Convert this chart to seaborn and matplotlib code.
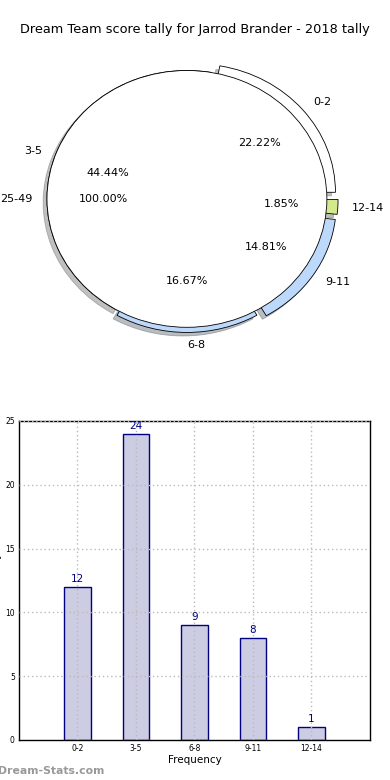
import matplotlib
matplotlib.use("Agg")
import matplotlib.pyplot as plt
import seaborn as sns

# ==========================================
# DATA
# ==========================================
bins = ["0-2", "3-5", "6-8", "9-11", "12-14"]
counts = [12, 24, 9, 8, 1]
outer_bin = ["25-49"]
outer_count = [1]
wedge_colors = ["white", "white", "#bcd8fb", "#bcd8fb", "#d3e98c"]
explode = [0.08, 0.0, 0.04, 0.08, 0.08]

title = "Dream Team score tally for Jarrod Brander - 2018 tally"

sns.set_style("white")
plt.rcParams["font.family"] = ["DejaVu Sans"]
plt.rcParams["text.color"] = "black"

fig = plt.figure(figsize=(3.9, 7.8), dpi=100)
fig.text(0.5, 1 - 30 / 780, title, ha="center", va="center", fontsize=9.3)

# ==========================================
# PIE
# ==========================================
ax1 = fig.add_axes([0.0128, 0.531, 0.933, 0.428])
wedges, _, _ = ax1.pie(counts, labels=bins, explode=explode,
                       colors=wedge_colors, autopct="%.2f%%", shadow=True,
                       startangle=0, labeldistance=1.1, pctdistance=0.6,
                       wedgeprops={"edgecolor": "black", "linewidth": 0.6},
                       textprops={"fontsize": 8, "color": "black"})
# lighter shadows
for p in ax1.patches:
    if p not in wedges:
        p.set_alpha(0.35)
ax1.pie(outer_count, labels=outer_bin, colors=["white"], autopct="%.2f%%",
        labeldistance=1.1, pctdistance=0.6,
        wedgeprops={"edgecolor": "black", "linewidth": 0.6},
        textprops={"fontsize": 8, "color": "black"})
ax1.set_aspect("auto")
ax1.set_xlim(-1.3, 1.3)
ax1.set_ylim(-1.3, 1.3)
ax1.axis("off")

# ==========================================
# BARS
# ==========================================
ax2 = fig.add_axes([0.0487, 0.0513, 0.9, 0.409])
sns.barplot(x=bins, y=counts, ax=ax2, color="#cccce3", saturation=1,
            edgecolor="navy", linewidth=1, width=0.45)
for i, v in enumerate(counts):
    ax2.text(i, v + 0.25, str(v), ha="center", va="bottom", color="navy", fontsize=7.5)

ax2.set_xlim(-1, len(bins))
ax2.set_ylim(0, 25)
ax2.set_yticks(range(0, 26, 5))
ax2.grid(True, linestyle=(0, (1, 2)), color="#bbbbbb", linewidth=1)
ax2.set_axisbelow(False)
ax2.tick_params(labelsize=5.5, direction="in", length=3, pad=3, colors="black")
ax2.set_xlabel("Frequency", fontsize=7.5, labelpad=1, color="black")
ax2.set_ylabel("Score Tally", fontsize=7.5, labelpad=2, color="black")
for s in ax2.spines.values():
    s.set_visible(True)
    s.set_color("black")
    s.set_linewidth(1)

fig.text(-0.005, 1 - 771 / 780, "Dream-Stats.com", ha="left", va="center",
         fontsize=7.8, color="#999999", fontweight="bold")

fig.savefig("out.png", dpi=100)
